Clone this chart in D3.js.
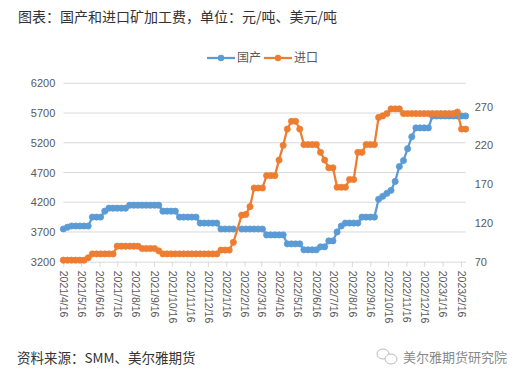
<!DOCTYPE html>
<html>
<head>
<meta charset="utf-8">
<script src="https://cdn.jsdelivr.net/npm/d3@7"></script>
<style>
  body { margin: 0; background: #fff; }
  svg { display: block; }
</style>
</head>
<body>
<div id="chart"></div>
<script>
// Weekly dates (2022/2/4, Spring Festival week, has no quote)
const dates = [
  "2021-04-16","2021-04-23","2021-04-30","2021-05-07","2021-05-14","2021-05-21","2021-05-28",
  "2021-06-04","2021-06-11","2021-06-18","2021-06-25","2021-07-02","2021-07-09","2021-07-16",
  "2021-07-23","2021-07-30","2021-08-06","2021-08-13","2021-08-20","2021-08-27","2021-09-03",
  "2021-09-10","2021-09-17","2021-09-24","2021-10-01","2021-10-08","2021-10-15","2021-10-22",
  "2021-10-29","2021-11-05","2021-11-12","2021-11-19","2021-11-26","2021-12-03","2021-12-10",
  "2021-12-17","2021-12-24","2021-12-31","2022-01-07","2022-01-14","2022-01-21","2022-01-28",
  "2022-02-11","2022-02-18","2022-02-25","2022-03-04","2022-03-11","2022-03-18","2022-03-25",
  "2022-04-01","2022-04-08","2022-04-15","2022-04-22","2022-04-29","2022-05-06","2022-05-13",
  "2022-05-20","2022-05-27","2022-06-03","2022-06-10","2022-06-17","2022-06-24","2022-07-01",
  "2022-07-08","2022-07-15","2022-07-22","2022-07-29","2022-08-05","2022-08-12","2022-08-19",
  "2022-08-26","2022-09-02","2022-09-09","2022-09-16","2022-09-23","2022-09-30","2022-10-07",
  "2022-10-14","2022-10-21","2022-10-28","2022-11-04","2022-11-11","2022-11-18","2022-11-25",
  "2022-12-02","2022-12-09","2022-12-16","2022-12-23","2022-12-30","2023-01-06","2023-01-13",
  "2023-01-20","2023-01-27","2023-02-03","2023-02-10","2023-02-17","2023-02-24"
];

// 国产 (元/吨, left axis)
const domestic = [
  3750,3780,3800,3800,3800,3800,3800,
  3950,3950,3950,4050,4100,4100,4100,
  4100,4100,4150,4150,4150,4150,4150,
  4150,4150,4150,4050,4050,4050,4050,
  3950,3950,3950,3950,3950,3850,3850,
  3850,3850,3850,3750,3750,3750,3750,
  3750,3750,3750,3750,3750,3750,3650,
  3650,3650,3650,3650,3500,3500,3500,
  3500,3400,3400,3400,3400,3450,3450,
  3550,3550,3700,3800,3850,3850,3850,
  3850,3950,3950,3950,3950,4250,4300,
  4350,4400,4550,4800,4900,5100,5300,
  5450,5450,5450,5450,5650,5650,5650,
  5650,5650,5650,5650,5650,5650
];

// 进口 (美元/吨, right axis)
const imported = [
  72,72,72,72,72,72,75,
  80,80,80,80,80,80,90,
  90,90,90,90,90,87,87,
  87,87,84,80,80,80,80,
  80,80,80,80,80,80,80,
  80,80,80,85,85,85,95,
  130,131,141,165,165,165,181,
  181,181,201,220,241,251,251,
  241,221,221,221,221,211,201,
  191,191,166,166,166,176,176,
  211,211,221,221,221,256,258,
  261,267,267,267,261,261,261,
  261,261,261,261,261,261,261,
  261,261,261,263,241,241
];

const tickLabels = [
  "2021/4/16","2021/5/16","2021/6/16","2021/7/16","2021/8/16","2021/9/16","2021/10/16",
  "2021/11/16","2021/12/16","2022/1/16","2022/2/16","2022/3/16","2022/4/16","2022/5/16",
  "2022/6/16","2022/7/16","2022/8/16","2022/9/16","2022/10/16","2022/11/16","2022/12/16",
  "2023/1/16","2023/2/16"
];
const leftTicks = [3200, 3700, 4200, 4700, 5200, 5700, 6200];
const rightTicks = [70, 120, 170, 220, 270];

const W = 528, H = 384;
const blue = "#5b9bd5", orange = "#ed7d31";
const textColor = "#595959";
const cjk = "'Noto Sans CJK SC', 'Noto Sans', sans-serif";
const num = "'Liberation Sans', Arial, sans-serif";

const parse = d3.timeParse("%Y-%m-%d");
const parseTick = d3.timeParse("%Y/%m/%d");
const data = dates.map((d, i) => ({ date: parse(d), dom: domestic[i], imp: imported[i] }));
const tickDates = tickLabels.map(parseTick);

const svg = d3.select("#chart").append("svg")
    .attr("width", W).attr("height", H);

// Scales
const x = d3.scaleTime()
    .domain([parse("2021-04-16"), parse("2023-02-24")])
    .range([63.3, 465.7]);
const yL = d3.scaleLinear().domain([3200, 6200]).range([261.7, 83.3]);
const yR = d3.scaleLinear().domain([70, 300]).range([261.7, 83.3]);

// Title
svg.append("text")
    .attr("x", 18).attr("y", 22)
    .attr("font-family", cjk).attr("font-size", 14)
    .attr("fill", "#333")
    .text("图表：国产和进口矿加工费，单位：元/吨、美元/吨");

// Gridlines
svg.append("g")
    .selectAll("line")
    .data(leftTicks.slice(1))
    .enter().append("line")
    .attr("x1", x.range()[0]).attr("x2", x.range()[1])
    .attr("y1", d => yL(d)).attr("y2", d => yL(d))
    .attr("stroke", "#d9d9d9").attr("stroke-width", 1);

// Left axis
svg.append("g")
    .attr("transform", `translate(${x.range()[0]},0)`)
    .call(d3.axisLeft(yL).tickValues(leftTicks).tickFormat(d3.format("d"))
        .tickSize(0).tickPadding(8))
    .call(g => g.select(".domain").remove())
    .selectAll("text")
    .attr("font-family", num)
    .attr("font-size", 11).attr("fill", textColor);

// Right axis
svg.append("g")
    .attr("transform", `translate(${x.range()[1]},0)`)
    .call(d3.axisRight(yR).tickValues(rightTicks).tickFormat(d3.format("d"))
        .tickSize(0).tickPadding(9))
    .call(g => g.select(".domain").remove())
    .selectAll("text")
    .attr("font-family", num)
    .attr("font-size", 11).attr("fill", textColor);

// Bottom axis
const xAxis = svg.append("g")
    .attr("transform", `translate(0,${yL(3200)})`)
    .call(d3.axisBottom(x).tickValues(tickDates)
        .tickFormat((d, i) => tickLabels[i]).tickSize(5).tickSizeOuter(0));
xAxis.select(".domain").attr("stroke", "#d9d9d9");
xAxis.selectAll(".tick line").attr("stroke", "#d9d9d9");
xAxis.selectAll("text")
    .attr("font-family", num)
    .attr("font-size", 10.5).attr("fill", textColor)
    .attr("transform", "rotate(90)")
    .attr("text-anchor", "start")
    .attr("x", 9).attr("y", 0).attr("dy", "0.35em");

// Series
const series = [
  { key: "dom", y: yL, color: blue },
  { key: "imp", y: yR, color: orange }
];
series.forEach(s => {
    const line = d3.line().x(d => x(d.date)).y(d => s.y(d[s.key]));
    svg.append("path")
        .datum(data)
        .attr("fill", "none")
        .attr("stroke", s.color)
        .attr("stroke-width", 2.25)
        .attr("stroke-linejoin", "round")
        .attr("d", line);
    svg.append("g")
        .selectAll("circle")
        .data(data)
        .enter().append("circle")
        .attr("cx", d => x(d.date))
        .attr("cy", d => s.y(d[s.key]))
        .attr("r", 3.1)
        .attr("fill", s.color)
        .attr("stroke", s.color)
        .attr("stroke-width", 0.75);
});

// Legend
const legendItems = [
  { name: "国产", color: blue, x: 207 },
  { name: "进口", color: orange, x: 264 }
];
const legend = svg.append("g");
legendItems.forEach(l => {
    legend.append("line")
        .attr("x1", l.x).attr("x2", l.x + 28)
        .attr("y1", 58).attr("y2", 58)
        .attr("stroke", l.color).attr("stroke-width", 2.25);
    legend.append("circle")
        .attr("cx", l.x + 14).attr("cy", 58).attr("r", 3.2)
        .attr("fill", l.color);
    legend.append("text")
        .attr("x", l.x + 30).attr("y", 58).attr("dy", "0.35em")
        .attr("font-family", cjk).attr("font-size", 12)
        .attr("fill", textColor)
        .text(l.name);
});

// Source note
svg.append("text")
    .attr("x", 17).attr("y", 358).attr("dy", "0.35em")
    .attr("font-family", cjk).attr("font-size", 13.5)
    .attr("fill", "#333")
    .text("资料来源：SMM、美尔雅期货");

// Watermark
const wm = svg.append("g").attr("fill", "none").attr("stroke", "#bbb").attr("stroke-width", 1);
wm.append("ellipse").attr("cx", 383).attr("cy", 354).attr("rx", 6).attr("ry", 5);
wm.append("ellipse").attr("cx", 391).attr("cy", 359).attr("rx", 6).attr("ry", 5).attr("fill", "#fff");
svg.append("text")
    .attr("x", 403).attr("y", 357).attr("dy", "0.35em")
    .attr("font-family", cjk).attr("font-size", 13)
    .attr("fill", "#888")
    .text("美尔雅期货研究院");
</script>
</body>
</html>
